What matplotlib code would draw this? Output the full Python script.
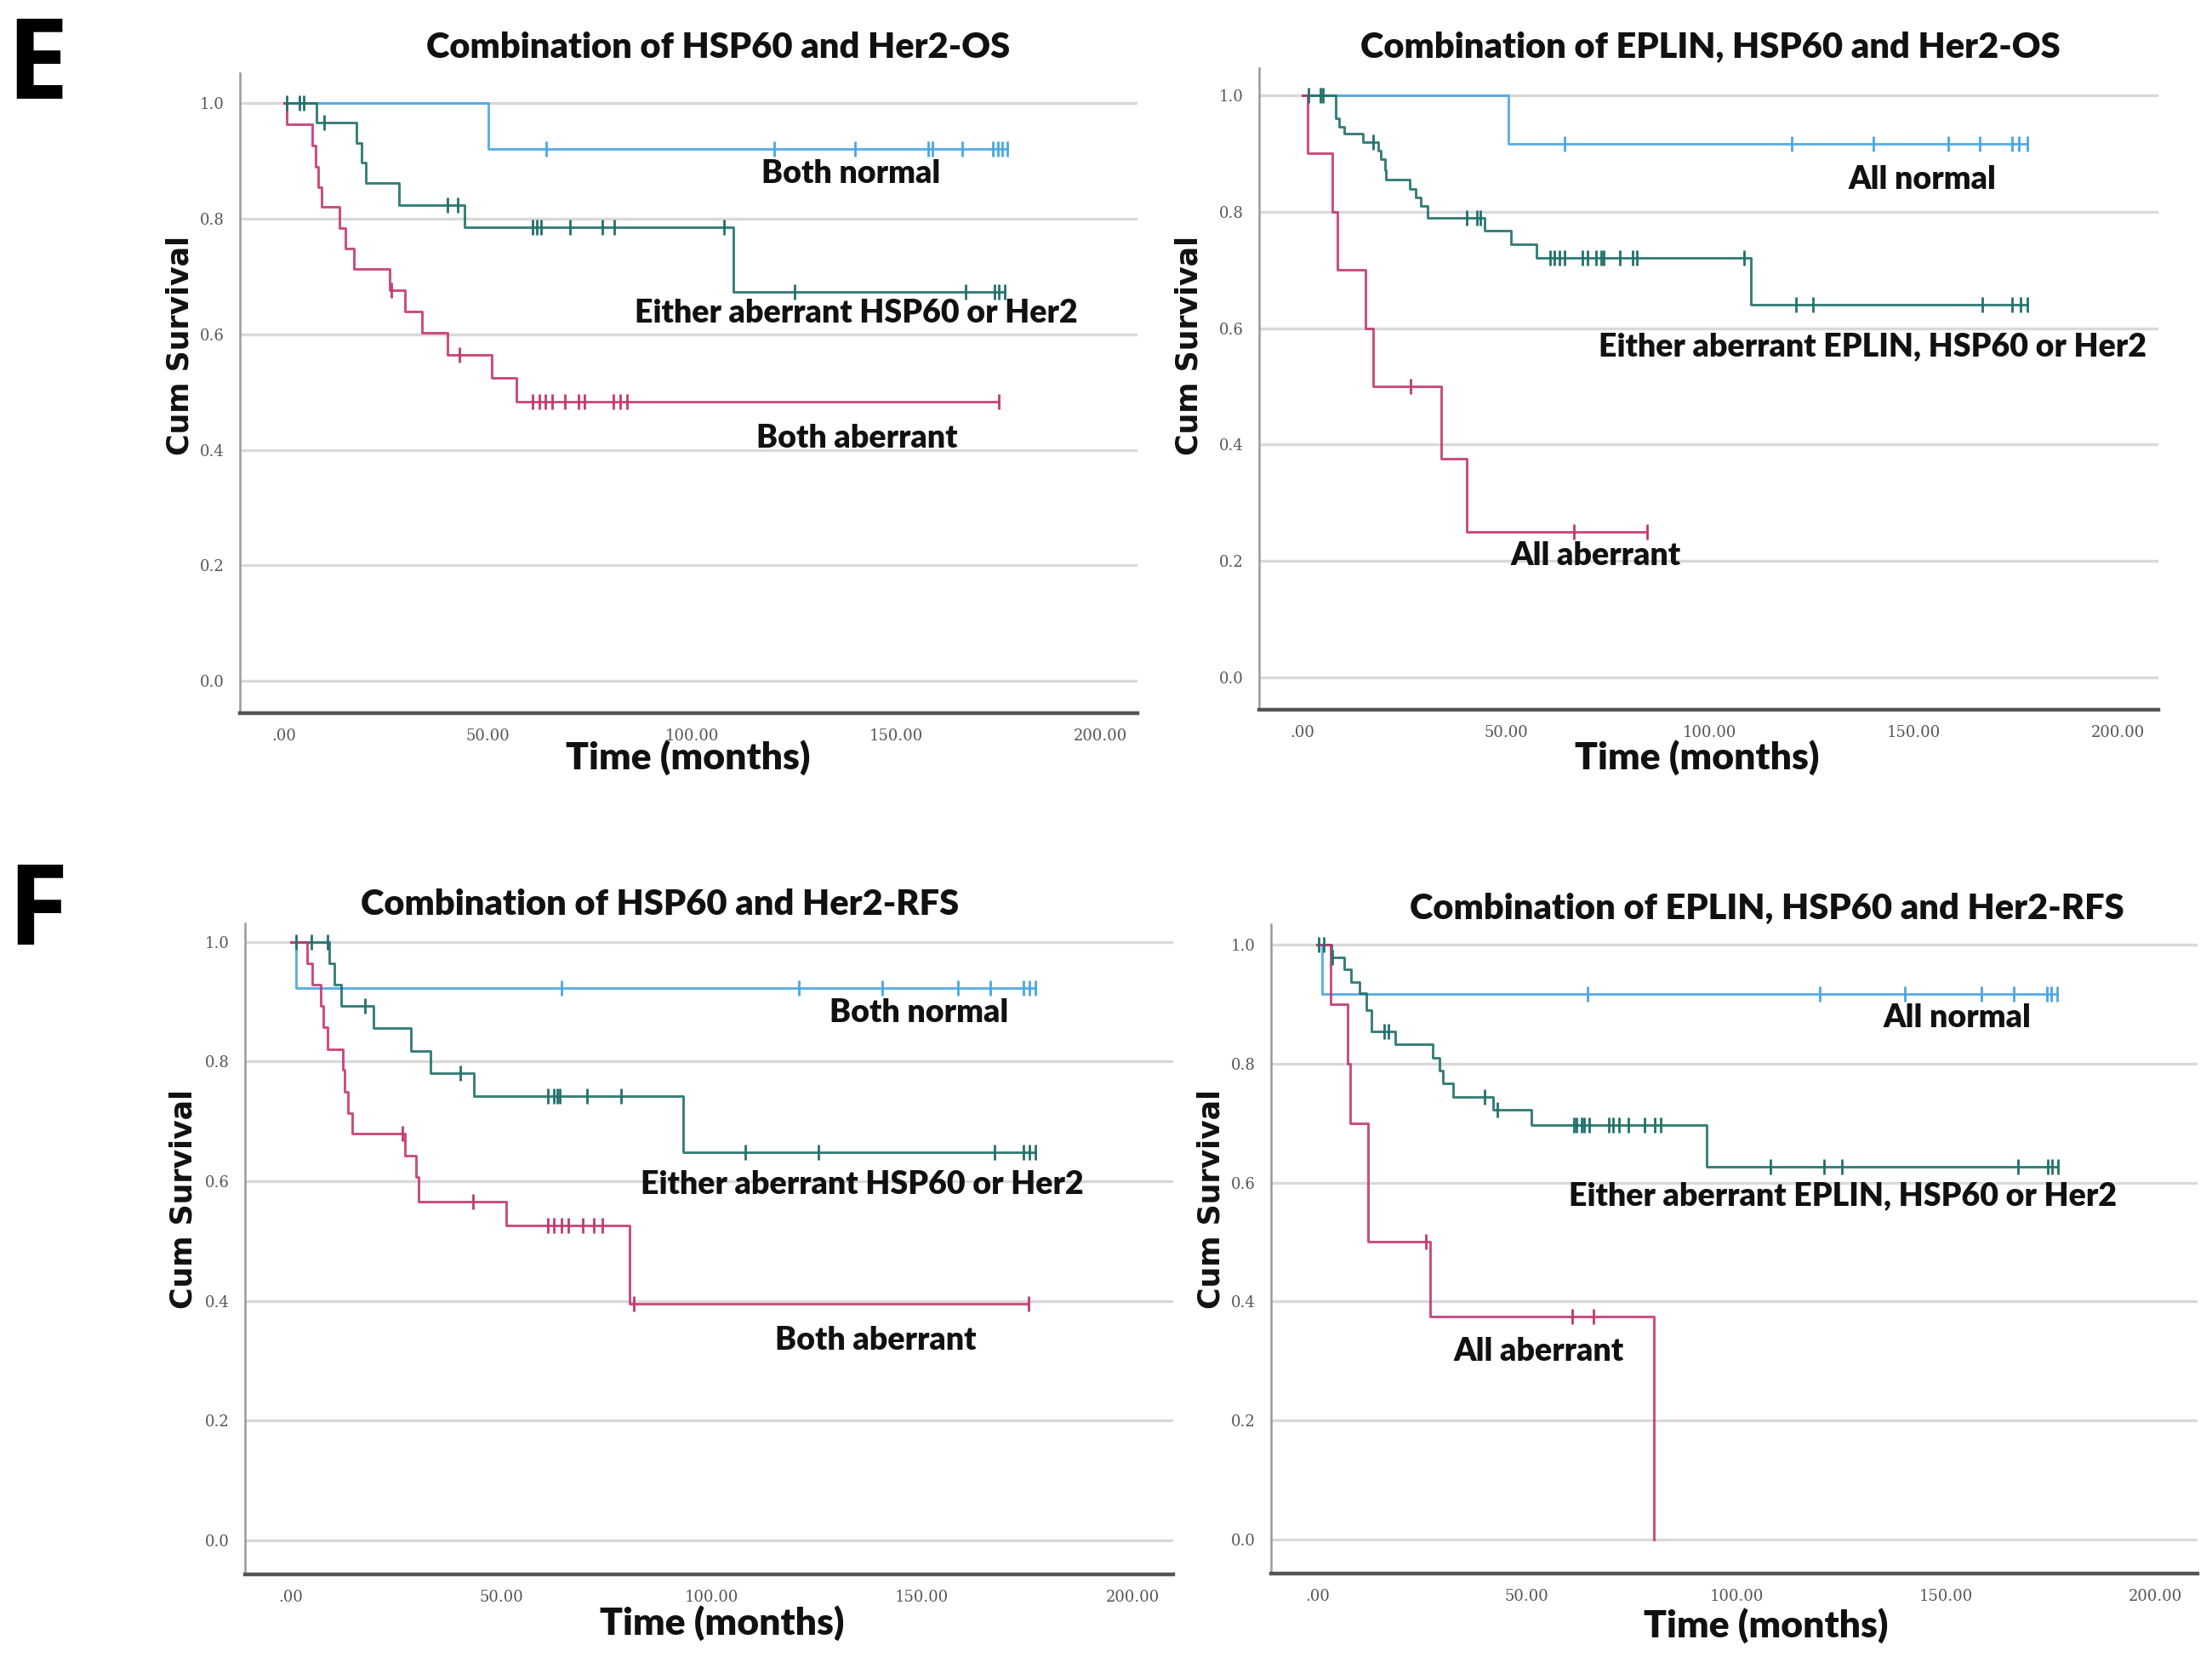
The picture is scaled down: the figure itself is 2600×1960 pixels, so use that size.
import numpy as np
import matplotlib
matplotlib.use('Agg')
import matplotlib.pyplot as plt

# ---------------- data ----------------
# each curve: event times, survival after each event, censor times

# E left: HSP60 + Her2, OS
os2_normal_t = [50.0]
os2_normal_s = [0.921]
os2_normal_c = [64.2, 120.0, 139.9, 157.7, 158.7, 166.0, 173.6, 174.8, 175.8, 177.2]
os2_either_t = [8.0, 17.8, 19.0, 20.0, 28.2, 44.2, 110.0]
os2_either_s = [0.966, 0.931, 0.897, 0.862, 0.823, 0.785, 0.673]
os2_either_c = [0.7, 3.8, 4.8, 9.9, 40.0, 42.5, 60.9, 62.0, 63.0, 70.0, 78.0, 80.9,
                107.7, 125.0, 167.0, 173.9, 175.0, 176.5]
os2_both_t = [0.7, 7.0, 7.7, 8.4, 9.1, 13.5, 15.0, 17.1, 25.8, 29.7, 33.8, 40.0, 50.9, 57.0]
os2_both_s = [0.963, 0.927, 0.890, 0.855, 0.820, 0.784, 0.749, 0.713, 0.677, 0.639,
              0.602, 0.564, 0.525, 0.483]
os2_both_c = [26.2, 42.9, 60.9, 62.5, 64.0, 65.7, 68.8, 72.2, 73.6, 80.6, 82.3, 84.0, 175.0]

# E right: EPLIN + HSP60 + Her2, OS
os3_normal_t = [50.5]
os3_normal_s = [0.917]
os3_normal_c = [64.4, 120.0, 140.0, 158.4, 166.2, 174.0, 175.7, 177.9]
os3_either_t = [8.1, 9.1, 10.2, 14.9, 18.6, 19.3, 20.2, 20.6, 26.4, 27.8, 29.0, 30.7,
                44.7, 51.2, 57.4, 110.1]
os3_either_s = [0.960, 0.946, 0.935, 0.920, 0.905, 0.890, 0.872, 0.855, 0.840, 0.825,
                0.810, 0.790, 0.767, 0.744, 0.721, 0.641]
os3_either_c = [1.5, 4.4, 5.1, 17.3, 40.3, 42.8, 43.6, 60.8, 61.8, 63.0, 64.4, 68.8,
                70.0, 72.0, 73.2, 73.9, 77.9, 81.0, 82.0, 108.3, 121.0, 125.2, 166.9,
                174.2, 176.1, 177.8]
os3_all_t = [1.2, 7.3, 8.5, 15.4, 17.3, 34.1, 40.3]
os3_all_s = [0.9, 0.8, 0.7, 0.6, 0.5, 0.375, 0.25]
os3_all_c = [26.6, 66.6, 84.6]

# F left: HSP60 + Her2, RFS
rfs2_normal_t = [1.2]
rfs2_normal_s = [0.923]
rfs2_normal_c = [64.3, 120.8, 140.5, 158.5, 166.3, 174.2, 175.6, 177.0]
rfs2_either_t = [9.1, 10.4, 12.0, 19.6, 28.6, 33.1, 43.5, 93.2]
rfs2_either_s = [0.964, 0.929, 0.893, 0.856, 0.818, 0.780, 0.742, 0.649]
rfs2_either_c = [1.2, 4.8, 8.7, 17.7, 40.2, 61.0, 62.4, 63.4, 63.9, 70.4, 78.4, 108.0,
                 125.3, 167.2, 174.2, 175.6, 177.0]
rfs2_both_t = [3.8, 5.0, 7.0, 7.7, 8.7, 12.3, 12.8, 13.5, 14.5, 27.2, 29.8, 30.3, 51.2, 80.4]
rfs2_both_s = [0.964, 0.929, 0.893, 0.857, 0.821, 0.786, 0.750, 0.714, 0.679, 0.643,
               0.607, 0.566, 0.526, 0.395]
rfs2_both_c = [26.5, 43.3, 61.0, 62.4, 64.3, 66.0, 69.4, 72.1, 74.0, 81.6, 175.3]

# F right: EPLIN + HSP60 + Her2, RFS
rfs3_normal_t = [1.2]
rfs3_normal_s = [0.917]
rfs3_normal_c = [64.4, 119.9, 140.1, 158.5, 166.1, 174.1, 175.0, 176.5]
rfs3_either_t = [3.5, 6.5, 8.0, 10.2, 11.7, 13.0, 18.7, 27.5, 29.2, 30.0, 32.5, 42.0,
                 51.0, 93.0]
rfs3_either_s = [0.978, 0.958, 0.937, 0.918, 0.890, 0.854, 0.832, 0.810, 0.788, 0.767,
                 0.744, 0.722, 0.697, 0.626]
rfs3_either_c = [0.3, 1.5, 3.6, 16.0, 17.0, 40.0, 43.0, 61.2, 61.9, 63.0, 63.7, 64.8,
                 69.5, 70.6, 72.0, 74.3, 78.0, 80.6, 82.0, 108.2, 120.9, 125.2, 167.2,
                 174.3, 175.2, 176.8]
rfs3_all_t = [3.2, 7.2, 7.9, 12.1, 27.0, 80.3]
rfs3_all_s = [0.9, 0.8, 0.7, 0.5, 0.375, 0.0]
rfs3_all_c = [26.0, 60.8, 66.0]

yticks = [0.0, 0.2, 0.4, 0.6, 0.8, 1.0]
ytick_labels = ['0.0', '0.2', '0.4', '0.6', '0.8', '1.0']
xticks = [0, 50, 100, 150, 200]
xtick_labels = ['.00', '50.00', '100.00', '150.00', '200.00']

blue = '#4aa6e4'
teal = '#21716a'
pink = '#c3386e'

W, H = 2600, 1960
fig = plt.figure(figsize=(26, 19.6), dpi=100)


def rect(l, t, r, b):
    return [l / W, 1 - b / H, (r - l) / W, (b - t) / H]


def km(ax, times, surv, cens, color):
    end = max(max(times), max(cens))
    x = [0.0] + list(times) + [end]
    y = [1.0] + list(surv) + [surv[-1]]
    ax.plot(x, y, drawstyle='steps-post', color=color, lw=2.1, alpha=0.9, zorder=3)
    vals = np.array([1.0] + list(surv))
    idx = np.searchsorted(np.array(times), np.array(cens), side='right')
    ax.plot(cens, vals[idx], ls='none', marker='|', ms=13, mew=2.0,
            color=color, zorder=4)


panels = [
    dict(r=rect(282, 86, 1337, 838), xl=(-10.8, 209), yl=(-0.056, 1.052),
         title='Combination of HSP60 and Her2-OS', tpos=(844, 56), xpos=(809, 890),
         ypos=(211, 406),
         curves=[(os2_normal_t, os2_normal_s, os2_normal_c, blue),
                 (os2_either_t, os2_either_s, os2_either_c, teal),
                 (os2_both_t, os2_both_s, os2_both_c, pink)],
         labels=[('Both normal', 138.8, 0.878),
                 ('Either aberrant HSP60 or Her2', 140.0, 0.636),
                 ('Both aberrant', 140.3, 0.42)]),
    dict(r=rect(1480, 80, 2537, 834), xl=(-10.6, 210), yl=(-0.056, 1.047),
         title='Combination of EPLIN, HSP60 and Her2-OS', tpos=(2010, 56), xpos=(1995, 890),
         ypos=(1398, 406),
         curves=[(os3_normal_t, os3_normal_s, os3_normal_c, blue),
                 (os3_either_t, os3_either_s, os3_either_c, teal),
                 (os3_all_t, os3_all_s, os3_all_c, pink)],
         labels=[('All normal', 152.0, 0.856),
                 ('Either aberrant EPLIN, HSP60 or Her2', 139.8, 0.569),
                 ('All aberrant', 72.0, 0.209)]),
    dict(r=rect(288, 1085, 1379, 1850), xl=(-10.9, 209.7), yl=(-0.057, 1.031),
         title='Combination of HSP60 and Her2-RFS', tpos=(776, 1063), xpos=(849, 1907),
         ypos=(216, 1409),
         curves=[(rfs2_normal_t, rfs2_normal_s, rfs2_normal_c, blue),
                 (rfs2_either_t, rfs2_either_s, rfs2_either_c, teal),
                 (rfs2_both_t, rfs2_both_s, rfs2_both_c, pink)],
         labels=[('Both normal', 149.2, 0.881),
                 ('Either aberrant HSP60 or Her2', 135.7, 0.594),
                 ('Both aberrant', 138.9, 0.334)]),
    dict(r=rect(1494, 1086, 2583, 1849), xl=(-11, 210), yl=(-0.057, 1.034),
         title='Combination of EPLIN, HSP60 and Her2-RFS', tpos=(2077, 1068), xpos=(2076, 1910),
         ypos=(1423, 1409),
         curves=[(rfs3_normal_t, rfs3_normal_s, rfs3_normal_c, blue),
                 (rfs3_either_t, rfs3_either_s, rfs3_either_c, teal),
                 (rfs3_all_t, rfs3_all_s, rfs3_all_c, pink)],
         labels=[('All normal', 152.7, 0.876),
                 ('Either aberrant EPLIN, HSP60 or Her2', 125.3, 0.577),
                 ('All aberrant', 52.9, 0.316)]),
]

for p in panels:
    ax = fig.add_axes(p['r'])
    ax.set_xlim(*p['xl'])
    ax.set_ylim(*p['yl'])
    for s in ['top', 'right']:
        ax.spines[s].set_visible(False)
    ax.spines['left'].set_color('#9a9a9a')
    ax.spines['left'].set_linewidth(1.8)
    ax.spines['bottom'].set_color('#555555')
    ax.spines['bottom'].set_linewidth(3.2)
    ax.set_yticks(yticks)
    ax.set_yticklabels(ytick_labels, family='DejaVu Serif', fontsize=13, color='#555555')
    ax.set_xticks(xticks)
    ax.set_xticklabels(xtick_labels, family='DejaVu Serif', fontsize=13, color='#555555')
    ax.tick_params(length=0, pad=13)
    ax.yaxis.grid(True, color='#d9d9d9', lw=2.4, zorder=0)
    ax.set_axisbelow(True)
    for t, s, c, col in p['curves']:
        km(ax, t, s, c, col)
    for txt, lx, ly in p['labels']:
        ax.text(lx, ly, txt, ha='center', va='center', family='Lato',
                fontweight='heavy', fontsize=27, color='#111111', zorder=5)
    fig.text(p['tpos'][0] / W, 1 - p['tpos'][1] / H, p['title'], ha='center', va='center',
             family='Lato', fontweight='heavy', fontsize=30, color='#111111')
    fig.text(p['xpos'][0] / W, 1 - p['xpos'][1] / H, 'Time (months)', ha='center',
             va='center', family='Lato', fontweight='heavy', fontsize=32, color='#111111')
    fig.text(p['ypos'][0] / W, 1 - p['ypos'][1] / H, 'Cum Survival', ha='center',
             va='center', rotation=90, family='DejaVu Sans', fontweight='bold',
             fontsize=25, color='#111111')

fig.text(44 / W, 1 - 82 / H, 'E', ha='center', va='center', family='Open Sans',
         fontweight='bold', fontsize=94, color='black')
fig.text(44 / W, 1 - 1076 / H, 'F', ha='center', va='center', family='Open Sans',
         fontweight='bold', fontsize=94, color='black')

fig.savefig('out.png', dpi=100, facecolor='white')
